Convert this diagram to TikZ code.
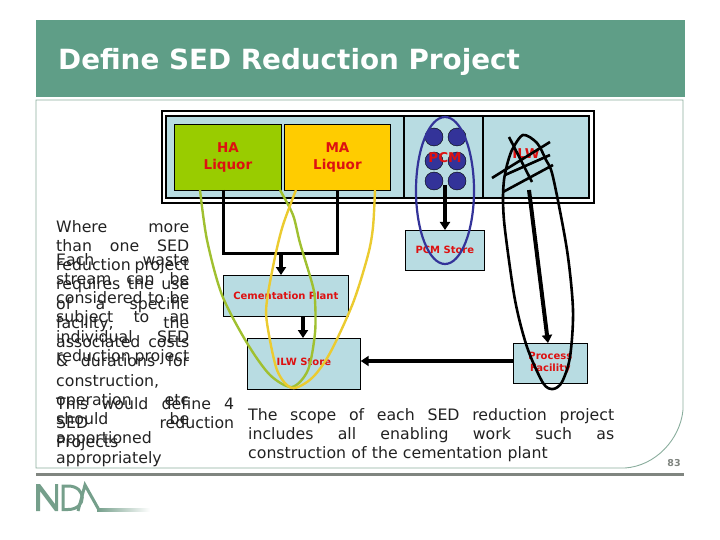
\documentclass[tikz,border=0pt]{standalone}
\usepackage{fontspec}
\setmainfont{DejaVu Sans}
\usetikzlibrary{arrows.meta}
\definecolor{slidegreen}{HTML}{5F9E87}
\definecolor{framegreen}{HTML}{8AAD9D}
\definecolor{logogreen}{HTML}{759F8B}
\definecolor{rulegray}{HTML}{808580}
\definecolor{paleblue}{HTML}{B8DCE2}
\definecolor{haGreen}{HTML}{99CC00}
\definecolor{maYellow}{HTML}{FFCC00}
\definecolor{redlabel}{HTML}{DD1111}
\definecolor{pcmblue}{HTML}{333399}
\definecolor{loopgreen}{HTML}{A0C030}
\definecolor{loopyellow}{HTML}{EBCB30}
\definecolor{textgray}{HTML}{222222}
\newcommand\jl[1]{\hbox to \linewidth{#1}\par}
\tikzset{
  x=1pt,y=-1pt,
  plantbox/.style={draw=black,line width=0.7pt,fill=paleblue,anchor=north west,inner sep=0pt,align=center,font=\bfseries\fontsize{10}{12}\selectfont,text=redlabel},
  liquor/.style={draw=black,line width=0.9pt,anchor=north west,inner sep=0pt,minimum width=107pt,minimum height=66pt,align=center,font=\bfseries\fontsize{13.5}{17}\selectfont,text=redlabel},
  bodytext/.style={anchor=north west,inner sep=0pt,font=\fontsize{15.75}{19.25}\selectfont,text=textgray},
  pipe/.style={line width=3pt,draw=black},
  flow/.style={line width=3.6pt,draw=black,-{Triangle[length=8pt,width=10pt]}},
  tank/.style={circle,fill=pcmblue,draw=black,line width=0.4pt,minimum size=18pt,inner sep=0pt},
  hatch/.style={line width=2.6pt,draw=black},
  rough/.style={line width=2.6pt,draw=black,smooth},
}
\begin{document}
\begin{tikzpicture}
\useasboundingbox (0,0) rectangle (720,540);
% slide furniture
\fill[slidegreen] (36,20) rectangle (685,97);
\node[anchor=west,inner sep=0pt,text=white,font=\bfseries\fontsize{27.8}{30}\selectfont] (title) at (58,62) {Define SED Reduction Project};
\draw[framegreen,line width=0.9pt] (683,410) -- (683,100) -- (36,100) -- (36,468) -- (625,468) .. controls (655,466) and (680,440) .. (683,410);
\fill[rulegray] (36,473) rectangle (684,475.5);
\node[text=rulegray,inner sep=0pt,font=\bfseries\fontsize{9.5}{11}\selectfont] (pageno) at (674,463) {83};
% NDA logo
\fill[logogreen] (36,511) -- (36,484) -- (40,484) -- (55,504) -- (55,484) -- (58,484) -- (58,511) -- (55,511) -- (40,491) -- (40,511) -- cycle;
\draw[logogreen,line width=3pt] (63,486) -- (68,486) .. controls (87,486) and (87,509.5) .. (68,509.5) -- (63,509.5) -- cycle;
\draw[logogreen,line width=3pt] (78,511) -- (85,485) -- (99,510);
\shade[left color=logogreen,right color=white] (97,508.5) rectangle (150,511.5);
% plant frame
\draw[black,line width=2pt] (162,111) rectangle (594,203);
\draw[black,line width=2pt,fill=paleblue] (166,116) rectangle (589,198);
\draw[black,line width=2pt] (404,116) -- (404,198) (483,116) -- (483,198);
\node[liquor,fill=haGreen] (ha) at (174,124) {\raisebox{-4pt}{\parbox{60pt}{\centering HA\\Liquor}}};
\node[liquor,fill=maYellow,minimum width=106pt] (ma) at (284,124) {\raisebox{-2pt}{\parbox{60pt}{\centering MA\\Liquor}}};
% pipes
\coordinate (joint) at (281,253);
\draw[pipe] (223,190) |- (337,253) -- (337,190);
\node[plantbox,minimum width=125pt,minimum height=41pt] (cem) at (223,275) {\raisebox{-2pt}{Cementation Plant}};
\node[plantbox,minimum width=113pt,minimum height=51pt] (ilw) at (247,338) {\raisebox{4pt}{ILW Store}};
\node[plantbox,minimum width=74pt,minimum height=40pt] (proc) at (513,343) {\raisebox{-3pt}{\parbox{74pt}{\centering Process\\Facility}}};
\node[plantbox,minimum width=79pt,minimum height=40pt] (pcmstore) at (405,230) {\raisebox{-1pt}{PCM Store}};
\draw[flow] (joint) -- (joint |- cem.north);
\draw[flow] (303,316) -- (303,338);
\draw[flow] (proc.west |- 0,361) -- (ilw.east |- 0,361);
% PCM
\foreach \n/\cx/\cy in {a/434/137,b/457/137,c/434/161,d/457/161,e/434/181,f/457/181}
  \node[tank] (t\n) at (\cx,\cy) {};
\node[inner sep=0pt,text=redlabel,font=\bfseries\fontsize{13.5}{14}\selectfont] (pcm) at (445,158) {PCM};
\draw[flow] (445,185) -- (445,230);
\draw[pcmblue,line width=2.2pt] (445,190.5) ellipse (29 and 73.5);
% ILW
\node[inner sep=0pt,text=redlabel,font=\bfseries\fontsize{13.5}{14}\selectfont] (ilwlabel) at (526,154) {ILW};
\draw[hatch] (492,178) -- (550,142);
\draw[hatch] (505,175) -- (550,155);
\draw[hatch] (503,192) -- (553,165);
\draw[hatch] (509,137) -- (532,182);
\draw[line width=4pt,draw=black,-{Triangle[length=8pt,width=10pt]}] (529,190) -- (548,343);
\draw[rough] plot coordinates {(507,165) (512,150) (523,135) (537,143) (546,160) (553,177) (567,250) (573,310) (570,357) (562,382) (553,389) (543,383) (527,347) (515,300) (505,230) (503,200) (504,180) (507,165)};
% coloured project loops
\draw[loopgreen,line width=2.4pt,smooth] plot coordinates {(200,190) (207,240) (222,295) (247,343) (270,375) (292,387) (308,370) (315,333) (315,300) (312,283) (300,243) (293,215) (280,190)};
\draw[loopyellow,line width=2.4pt,smooth] plot coordinates {(296,190) (283,225) (275,257) (267,300) (267,323) (277,370) (292,388) (312,378) (330,353) (353,303) (368,255) (373,227) (375,190)};
% texts
\node[bodytext,text width=133pt] (blockA) at (56,220) {%
\jl{Where\hfill more}\jl{than\hfill one\hfill SED}\jl{reduction\hfill project}\jl{requires\hfill the\hfill use}\jl{of\hfill a\hfill specific}\jl{facility,\hfill the}\jl{associated\hfill costs}\jl{\&\hfill durations\hfill for}\jl{construction,\hfill}\jl{operation\hfill etc}\jl{should\hfill be}\jl{apportioned\hfill}\jl{appropriately\hfill}};
\node[bodytext,text width=133pt] (blockB) at (56,253) {%
\jl{Each\hfill waste}\jl{stream\hfill can\hfill be}\jl{considered\hfill to\hfill be}\jl{subject\hfill to\hfill an}\jl{individual\hfill SED}\jl{reduction\hfill project}};
\node[bodytext,text width=178pt] (blockC) at (56,397) {%
\jl{This\hfill would\hfill define\hfill 4}\jl{SED\hfill reduction}\jl{Projects\hfill}};
\node[bodytext,text width=366pt] (blockD) at (248,408) {%
\jl{The\hfill scope\hfill of\hfill each\hfill SED\hfill reduction\hfill project}\jl{includes\hfill all\hfill enabling\hfill work\hfill such\hfill as}\jl{construction of the cementation plant\hfill}};
\end{tikzpicture}
\end{document}
